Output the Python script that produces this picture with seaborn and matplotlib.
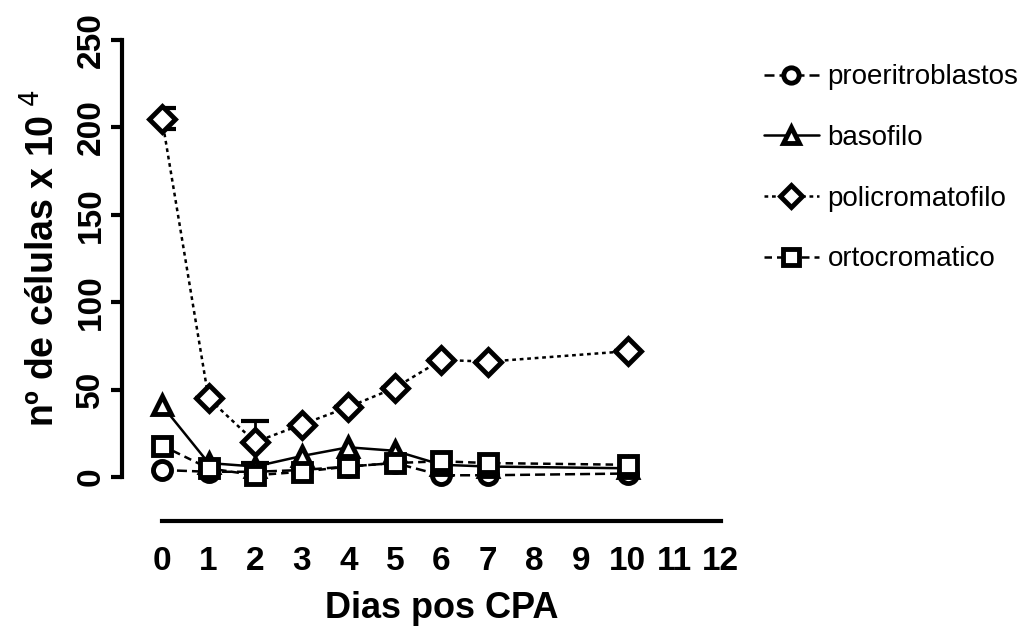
import pandas as pd
import numpy as np
import matplotlib.pyplot as plt
import seaborn as sns

# datos
dias = [0, 1, 2, 3, 4, 5, 6, 7, 10]
proeritroblastos = [4, 3, 3, 4, 6, 8, 1, 1, 2]
basofilo = [41, 8, 6, 12, 17, 15, 7, 6, 5]
policromatofilo = [205, 45, 20, 30, 40, 51, 67, 66, 72]
ortocromatico = [18, 5, 1, 3, 6, 8, 9, 8, 7]
policromatofilo_err = [6, 0, 12, 0, 0, 0, 0, 0, 0]

series = ['proeritroblastos', 'basofilo', 'policromatofilo', 'ortocromatico']
x_ticks = list(range(0, 13))
y_ticks = [0, 50, 100, 150, 200, 250]

df = pd.DataFrame({
    'dias': dias * 4,
    'celulas': proeritroblastos + basofilo + policromatofilo + ortocromatico,
    'tipo': np.repeat(series, len(dias)),
})

sns.set_style('white', {'text.color': 'black', 'axes.edgecolor': 'black',
                        'axes.labelcolor': 'black', 'xtick.color': 'black',
                        'ytick.color': 'black'})
plt.rcParams['font.family'] = ['Liberation Sans', 'DejaVu Sans']

fig = plt.figure(figsize=(10.35, 6.26), dpi=100)
ax = fig.add_axes([0.1565, 0.238, 0.54, 0.698])

marcadores = {'proeritroblastos': 'o', 'basofilo': '^',
              'policromatofilo': 'D', 'ortocromatico': 's'}
estilos = {'proeritroblastos': (4, 2), 'basofilo': '',
           'policromatofilo': (1.5, 1.5), 'ortocromatico': (3, 2)}

# barras de error primero, para que queden debajo de los marcadores
ax.errorbar(dias, policromatofilo, yerr=policromatofilo_err, fmt='none',
            ecolor='black', elinewidth=2, capsize=10, capthick=3, zorder=1)

sns.lineplot(data=df, x='dias', y='celulas', hue='tipo', style='tipo',
             palette=['black'] * 4, markers=marcadores, dashes=estilos,
             markersize=13, markeredgewidth=3.5, markerfacecolor='white',
             markeredgecolor='black', linewidth=1.8, ax=ax,
             clip_on=False, zorder=3)

# despine antes de los ticks (set_position reinicia los ticks)
sns.despine(ax=ax, offset={'left': 29, 'bottom': 32})
ax.spines['left'].set_linewidth(3)
ax.spines['bottom'].set_linewidth(3)

ax.set_xlim(0, 12)
ax.set_ylim(0, 250)
ax.set_xticks(x_ticks)
ax.set_xticklabels([str(t) for t in x_ticks], fontsize=24, fontweight='bold')
ax.set_yticks(y_ticks)
ax.set_yticklabels([str(t) for t in y_ticks], fontsize=24,
                   fontweight='bold', rotation=90, va='center')
ax.tick_params(axis='y', length=8, width=3, pad=3, left=True)
ax.tick_params(axis='x', length=0, pad=18)

ax.set_xlabel('Dias pos CPA', fontsize=26, fontweight='bold', labelpad=10)
ax.set_ylabel('nº de células x 10$^{\\ 4}$', fontsize=27, fontweight='bold',
              labelpad=10)

handles, labels = ax.get_legend_handles_labels()
leg = ax.legend(handles, labels, loc='upper left', bbox_to_anchor=(0.727, 0.915),
                bbox_transform=fig.transFigure, frameon=False, fontsize=20,
                handlelength=2.0, handletextpad=0.3, labelspacing=1.25,
                borderaxespad=0, markerscale=0.85)

plt.savefig('out.png', dpi=100)
